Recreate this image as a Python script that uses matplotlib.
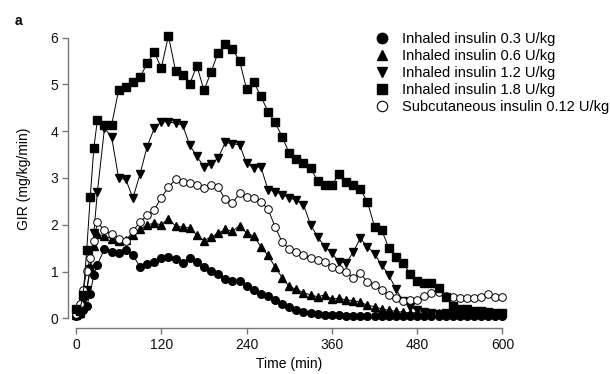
import matplotlib
matplotlib.use('Agg')
import matplotlib.pyplot as plt
from matplotlib.lines import Line2D

plt.rcParams['font.family'] = ['Liberation Sans', 'DejaVu Sans']

# Tiempo (min)
time = [0, 5, 10, 15, 20, 25, 30, 40, 50, 60, 70, 80, 90, 100, 110, 120, 130, 140, 150, 160,
        170, 180, 190, 200, 210, 220, 230, 240, 250, 260, 270, 280, 290, 300, 310, 320, 330,
        340, 350, 360, 370, 380, 390, 400, 410, 420, 430, 440, 450, 460, 470, 480, 490, 500,
        510, 520, 530, 540, 550, 560, 570, 580, 590, 600]

# GIR (mg/kg/min) por grupo
inh_03 = [0.06, 0.10, 0.18, 0.26, 0.53, 0.93, 1.15, 1.48, 1.42, 1.40, 1.47, 1.35, 1.10, 1.16,
          1.21, 1.28, 1.32, 1.27, 1.19, 1.28, 1.20, 1.10, 1.01, 0.94, 0.83, 0.80, 0.80, 0.70,
          0.61, 0.53, 0.47, 0.40, 0.31, 0.24, 0.17, 0.14, 0.11, 0.09, 0.08, 0.07, 0.07, 0.06,
          0.06, 0.06, 0.05, 0.06, 0.05, 0.05, 0.06, 0.05, 0.05, 0.06, 0.05, 0.05, 0.06, 0.05,
          0.05, 0.05, 0.06, 0.05, 0.05, 0.05, 0.06, 0.05]
inh_06 = [0.08, 0.12, 0.28, 0.60, 1.10, 1.55, 1.80, 1.76, 1.70, 1.66, 1.68, 1.78, 1.90, 2.00,
          2.03, 2.00, 2.13, 1.97, 1.95, 1.93, 1.78, 1.66, 1.74, 1.82, 1.90, 1.86, 1.98, 1.82,
          1.76, 1.53, 1.35, 1.10, 0.87, 0.68, 0.62, 0.55, 0.50, 0.46, 0.50, 0.41, 0.43, 0.39,
          0.38, 0.34, 0.28, 0.25, 0.20, 0.17, 0.15, 0.13, 0.12, 0.12, 0.11, 0.12, 0.11, 0.12,
          0.11, 0.12, 0.11, 0.11, 0.12, 0.11, 0.11, 0.11]
inh_12 = [0.10, 0.15, 0.35, 0.60, 1.05, 1.82, 2.70, 4.06, 3.88, 2.99, 2.97, 2.57, 3.08, 3.67,
          4.06, 4.20, 4.20, 4.17, 4.13, 3.70, 3.46, 3.24, 3.29, 3.43, 3.76, 3.73, 3.71, 3.31,
          3.22, 3.24, 2.75, 2.71, 2.64, 2.58, 2.52, 2.43, 2.00, 1.74, 1.53, 1.39, 1.21, 1.18,
          1.42, 1.71, 1.53, 1.38, 1.14, 0.93, 0.62, 0.38, 0.25, 0.17, 0.13, 0.12, 0.10, 0.11,
          0.10, 0.10, 0.11, 0.10, 0.10, 0.10, 0.10, 0.10]
inh_18 = [0.20, 0.15, 0.50, 1.45, 2.60, 3.63, 4.24, 4.13, 4.13, 4.88, 4.94, 5.06, 5.15, 5.45,
          5.69, 5.35, 6.04, 5.29, 5.20, 5.01, 5.40, 4.87, 5.27, 5.68, 5.86, 5.75, 5.51, 4.90,
          5.05, 4.75, 4.42, 4.19, 3.88, 3.53, 3.40, 3.31, 3.21, 2.94, 2.85, 2.85, 3.09, 2.92,
          2.86, 2.76, 2.49, 1.96, 1.89, 1.50, 1.32, 1.19, 0.95, 0.80, 0.75, 0.75, 0.65, 0.45,
          0.27, 0.20, 0.20, 0.16, 0.15, 0.13, 0.12, 0.12]
sc_012 = [0.10, 0.30, 0.60, 1.02, 1.28, 1.65, 2.05, 1.88, 1.80, 1.70, 1.66, 1.86, 2.06, 2.20,
          2.32, 2.58, 2.80, 2.97, 2.92, 2.90, 2.86, 2.79, 2.85, 2.80, 2.54, 2.46, 2.67, 2.60,
          2.58, 2.49, 2.34, 1.96, 1.63, 1.49, 1.41, 1.36, 1.28, 1.25, 1.21, 1.10, 1.05, 1.00,
          0.86, 0.96, 0.78, 0.71, 0.60, 0.50, 0.43, 0.37, 0.39, 0.39, 0.48, 0.55, 0.57, 0.48,
          0.46, 0.43, 0.43, 0.43, 0.46, 0.53, 0.46, 0.46]

labels = ['Inhaled insulin 0.3 U/kg', 'Inhaled insulin 0.6 U/kg', 'Inhaled insulin 1.2 U/kg',
          'Inhaled insulin 1.8 U/kg', 'Subcutaneous insulin 0.12 U/kg']

fig = plt.figure(figsize=(6.1, 3.74), dpi=100)
ax = fig.add_axes([0.1115, 0.123, 0.7262, 0.797])

lw = 0.7
ax.plot(time, inh_03, color='black', lw=lw, marker='o', ms=5.5, mfc='black', mec='black', zorder=2)
ax.plot(time, inh_06, color='black', lw=lw, marker='^', ms=6, mfc='black', mec='black', zorder=3)
ax.plot(time, inh_12, color='black', lw=lw, marker='v', ms=6, mfc='black', mec='black', zorder=4)
ax.plot(time, sc_012, color='black', lw=lw, marker='o', ms=5.5, mfc='white', mec='black', mew=0.7, zorder=5)
ax.plot(time, inh_18, color='black', lw=lw, marker='s', ms=5.3, mfc='black', mec='black', zorder=6)

ax.set_xlim(-11.3, 612)
ax.set_ylim(-0.207, 6.164)
ax.set_xticks([0, 120, 240, 360, 480, 600])
ax.set_yticks([0, 1, 2, 3, 4, 5, 6])
for s in ['top', 'right']:
    ax.spines[s].set_visible(False)
ax.spines['left'].set_bounds(0, 6)
ax.spines['bottom'].set_bounds(0, 600)
for s in ['left', 'bottom']:
    ax.spines[s].set_color('#777777')
    ax.spines[s].set_linewidth(1.0)
ax.tick_params(direction='out', length=4, width=1.0, color='#777777', labelsize=10,
               labelcolor='#111111', pad=3)

ax.set_xlabel('Time (min)', fontsize=10, labelpad=4)
ax.set_ylabel('GIR (mg/kg/min)', fontsize=10, labelpad=14)

handles = [
    Line2D([], [], ls='none', marker='o', ms=7.5, mfc='black', mec='black'),
    Line2D([], [], ls='none', marker='^', ms=7.5, mfc='black', mec='black'),
    Line2D([], [], ls='none', marker='v', ms=7.5, mfc='black', mec='black'),
    Line2D([], [], ls='none', marker='s', ms=7, mfc='black', mec='black'),
    Line2D([], [], ls='none', marker='o', ms=7.5, mfc='white', mec='black', mew=0.8),
]
fig.legend(handles, labels, loc='upper left', bbox_to_anchor=(375 / 610, 1 - 32 / 374),
           frameon=False, fontsize=10.5, handlelength=1.0, handletextpad=0.85,
           labelspacing=0.2, borderpad=0, borderaxespad=0)

fig.text(15 / 610, 1 - 21 / 374, 'a', fontsize=10, fontweight='bold', va='center', ha='left')

fig.savefig('out.png', dpi=100)
